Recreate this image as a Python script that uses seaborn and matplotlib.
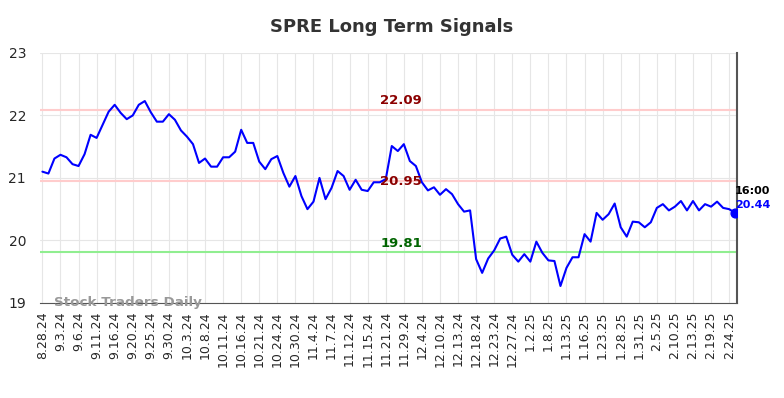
import matplotlib
matplotlib.use("Agg")
import matplotlib.pyplot as plt
import seaborn as sns
import numpy as np
import pandas as pd

# closing prices, one per trading day from 8.28.24
prices = [
    21.10, 21.07, 21.31, 21.37, 21.33, 21.22, 21.19, 21.38, 21.69, 21.64,
    21.85, 22.06, 22.17, 22.04, 21.94, 22.00, 22.17, 22.23, 22.05, 21.90,
    21.90, 22.02, 21.93, 21.76, 21.66, 21.54, 21.24, 21.31, 21.18, 21.18,
    21.33, 21.33, 21.42, 21.77, 21.56, 21.56, 21.26, 21.14, 21.30, 21.35,
    21.08, 20.86, 21.03, 20.71, 20.50, 20.62, 21.00, 20.66, 20.84, 21.11,
    21.03, 20.81, 20.97, 20.81, 20.79, 20.93, 20.93, 20.98, 21.51, 21.43,
    21.54, 21.27, 21.19, 20.93, 20.80, 20.85, 20.73, 20.82, 20.74, 20.58,
    20.46, 20.48, 19.70, 19.48, 19.71, 19.84, 20.03, 20.06, 19.77, 19.66,
    19.78, 19.66, 19.98, 19.80, 19.68, 19.67, 19.27, 19.56, 19.73, 19.73,
    20.10, 19.98, 20.44, 20.33, 20.42, 20.59, 20.21, 20.06, 20.30, 20.29,
    20.21, 20.29, 20.52, 20.58, 20.48, 20.54, 20.63, 20.48, 20.63, 20.48,
    20.58, 20.54, 20.62, 20.52, 20.50, 20.44,
]

tick_labels = [
    "8.28.24", "9.3.24", "9.6.24", "9.11.24", "9.16.24", "9.20.24", "9.25.24",
    "9.30.24", "10.3.24", "10.8.24", "10.11.24", "10.16.24", "10.21.24",
    "10.24.24", "10.30.24", "11.4.24", "11.7.24", "11.12.24", "11.15.24",
    "11.21.24", "11.29.24", "12.4.24", "12.10.24", "12.13.24", "12.18.24",
    "12.23.24", "12.27.24", "1.2.25", "1.8.25", "1.13.25", "1.16.25",
    "1.23.25", "1.28.25", "1.31.25", "2.5.25", "2.10.25", "2.13.25",
    "2.19.25", "2.24.25",
]

upper_res = 22.09
lower_res = 20.95
support = 19.81
last_time = "16:00"

df = pd.DataFrame({"idx": np.arange(len(prices)), "price": prices})

sns.set_style("whitegrid", {"grid.color": "#e6e6e6", "axes.edgecolor": "#555555"})
plt.rcParams['font.family'] = ['DejaVu Sans']

fig = plt.figure(figsize=(7.84, 3.98), dpi=100)
ax = fig.add_axes([0.051, 0.239, 0.889, 0.628])

ax.axhline(upper_res, color="#ffcccc", lw=1.5, zorder=1)
ax.axhline(lower_res, color="#ffcccc", lw=1.5, zorder=1)
ax.axhline(support, color="#90ee90", lw=1.5, zorder=1)

sns.lineplot(data=df, x="idx", y="price", color="#0000ff", lw=1.5, ax=ax, zorder=3)
ax.scatter([df["idx"].iloc[-1]], [prices[-1]], s=40, color="#0000ff", zorder=4)

mid = (len(prices) - 1) * 0.518
ax.text(mid, upper_res + 0.04, f"{upper_res:.2f}", color="#8b0000", fontsize=9.5,
        fontweight="bold", ha="center", va="bottom")
ax.text(mid, lower_res, f"{lower_res:.2f}", color="#8b0000", fontsize=9.5,
        fontweight="bold", ha="center", va="center")
ax.text(mid, support + 0.04, f"{support:.2f}", color="#006400", fontsize=9.5,
        fontweight="bold", ha="center", va="bottom")

last_x = df["idx"].iloc[-1]
ax.text(last_x, prices[-1] + 0.35, last_time, color="black", fontsize=8,
        fontweight="bold", ha="left", va="center")
ax.text(last_x, prices[-1] + 0.13, f"{prices[-1]:.2f}", color="#0000ff", fontsize=8,
        fontweight="bold", ha="left", va="center")

ax.text(2, 19.0, "Stock Traders Daily", color="#999999", fontsize=9.7,
        fontweight="bold", ha="left", va="center", zorder=5)

ax.set_xticks(np.arange(0, len(prices), 3)[:len(tick_labels)])
ax.set_xticklabels(tick_labels, rotation=90, fontsize=9)
ax.set_yticks([19, 20, 21, 22, 23])
ax.tick_params(axis="y", labelsize=10, length=0, pad=10)
ax.tick_params(axis="x", length=0, pad=6)
ax.set_xlim(-0.4, 115.3)
ax.set_ylim(19, 23)
ax.set_xlabel("")
ax.set_ylabel("")

ax.spines["left"].set_visible(False)
ax.spines["top"].set_visible(False)
ax.spines["right"].set_color("#555555")
ax.spines["right"].set_linewidth(1.5)
ax.spines["bottom"].set_color("#555555")

fig.suptitle("SPRE Long Term Signals", fontsize=13, fontweight="bold", color="#333333", y=0.955)

fig.savefig("out.png", dpi=100)
